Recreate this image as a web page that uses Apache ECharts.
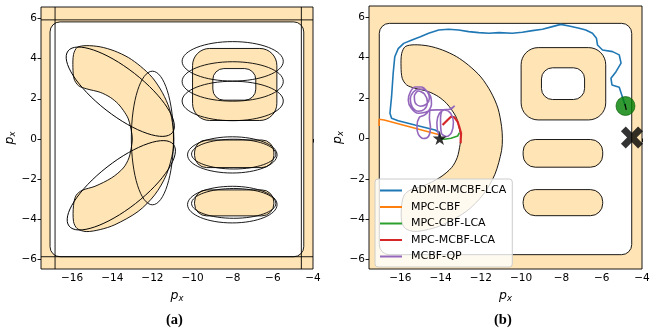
<!DOCTYPE html>
<html>
<head>
<meta charset="utf-8">
<script src="https://cdn.jsdelivr.net/npm/echarts@6/dist/echarts.min.js"></script>
<style>
  html, body { margin: 0; padding: 0; background: #fff; }
  #chart { width: 656px; height: 334px; }
</style>
</head>
<body>
<div id="chart"></div>
<script>
// tick labels
const xTicks = [-16, -14, -12, -10, -8, -6, -4];
const yTicks = [-6, -4, -2, 0, 2, 4, 6];
const xMin = -17.55, xMax = -4, yMin = -6.46, yMax = 6.56;

// free space (rounded rect: x0, y0, x1, y1, corner radius)
const freeA = [[-17.1, -5.85, -4.46, 5.82, 0.5]];
const freeB = [[-17.04, -5.75, -4.51, 5.7, 0.5]];

// obstacles: rounded rects and holes
const blocks = [
  [-10.0, 0.92, -5.8, 4.5, 0.85],
  [-9.9, -1.42, -5.95, -0.05, 0.6],
  [-9.9, -3.82, -5.95, -2.53, 0.6]
];
const holes = [[-8.99, 1.93, -6.85, 3.5, 0.55]];

// C shaped obstacle outline
const cShape = [
  [-15.93, 4.2], [-15.75, 4.55], [-15.3, 4.64], [-14.6, 4.58], [-13.9, 4.38],
  [-13.2, 4.05], [-12.6, 3.62], [-12.0, 3.05], [-11.5, 2.3], [-11.15, 1.5],
  [-10.97, 0.6], [-10.93, 0], [-10.97, -0.6], [-11.3, -1.77], [-11.88, -2.77],
  [-12.71, -3.6], [-13.87, -4.26], [-14.6, -4.5], [-15.3, -4.6], [-15.75, -4.45],
  [-15.93, -4.1], [-15.93, -3.3], [-15.8, -2.8], [-15.5, -2.55], [-14.86, -2.35],
  [-14.03, -1.93], [-13.45, -1.44], [-13.17, -0.94], [-13.03, -0.3], [-13.0, 0],
  [-13.03, 0.3], [-13.2, 1.0], [-13.44, 1.41], [-13.7, 1.74], [-14.1, 2.07],
  [-14.6, 2.32], [-15.27, 2.49], [-15.68, 2.65], [-15.9, 2.98], [-15.96, 3.55]
];

// (a) ellipses: cx, cy, rx, ry, angle(deg)
const ellipses = [
  [-13.6, 2.35, 3.3, 1.15, -38],
  [-13.55, -2.3, 3.3, 1.15, 38],
  [-12.0, 0.05, 1.05, 3.32, 0],
  [-8.0, 3.86, 2.52, 0.98, 0],
  [-8.0, 2.86, 2.52, 0.98, 0],
  [-8.0, 1.89, 2.52, 0.98, 0],
  [-8.02, -0.79, 2.23, 0.9, 0],
  [-7.95, -0.75, 2.1, 0.74, 0],
  [-8.02, -3.26, 2.23, 0.91, 0],
  [-7.95, -3.2, 2.1, 0.74, 0]
];
// (a) straight boundary lines
const vLinesA = [-16.85, -4.58];
const hLinesA = [5.92, -5.85];

// (b) trajectories
const admm = [
  [-4.83, 1.62], [-5.13, 2.54], [-5.49, 2.65], [-5.54, 2.98], [-5.29, 3.31], [-5.04, 3.73],
  [-5.13, 4.14], [-5.46, 4.3], [-5.96, 4.38], [-6.21, 4.63], [-6.26, 4.96], [-6.46, 5.21],
  [-6.79, 5.37], [-7.12, 5.46], [-7.62, 5.57], [-8.03, 5.65], [-8.45, 5.54], [-8.94, 5.41],
  [-9.44, 5.34], [-9.94, 5.26], [-10.44, 5.21], [-11.1, 5.24], [-11.6, 5.21], [-12.1, 5.24],
  [-12.6, 5.29], [-13.1, 5.37], [-13.6, 5.41], [-14.09, 5.37], [-14.59, 5.21], [-15.0, 5.04],
  [-15.42, 4.88], [-15.83, 4.71], [-16.1, 4.45], [-16.27, 4.05], [-16.35, 3.23], [-16.43, 2.07],
  [-16.51, 1.25], [-16.43, 1.0], [-16.1, 0.88], [-15.27, 0.67], [-14.27, 0.42], [-14.05, 0.3]
];
const mpcCbf = [[-17.05, 0.62], [-17.05, 0.95], [-16.8, 0.92], [-14.1, 0.2]];
const mpcCbfLca = [[-14.0, 0.0], [-13.81, -0.04], [-13.48, 0.01], [-13.15, 0.12], [-13.07, 0.28]];
const mpcMcbfLca = [
  [-13.9, 0.67], [-13.65, 0.92], [-13.48, 1.08], [-13.31, 1.05], [-13.15, 0.83],
  [-13.07, 0.58], [-12.98, 0.26], [-13.0, -0.07], [-13.0, -0.23]
];
const mcbfQp = [
  [-14.02, 0.05], [-14.15, 0.4], [-14.18, 0.8], [-14.05, 1.25], [-13.8, 1.41], [-13.5, 1.25],
  [-13.36, 0.8], [-13.45, 0.3], [-13.7, 0.1], [-13.95, 0.25], [-14.0, 0.9], [-13.9, 1.4],
  [-13.55, 1.45], [-13.3, 1.62], [-13.5, 1.45], [-14.0, 1.42], [-14.5, 1.4], [-14.55, 1.0],
  [-14.5, 0.55], [-14.6, 0.1], [-14.85, 0.0], [-15.1, 0.2], [-15.17, 0.6], [-15.05, 1.05],
  [-14.8, 1.16], [-14.6, 1.35], [-14.45, 1.7], [-14.5, 2.1], [-14.75, 2.4], [-15.05, 2.45],
  [-15.35, 2.3], [-15.5, 1.95], [-15.4, 1.55], [-15.1, 1.35], [-14.8, 1.45], [-14.65, 1.8],
  [-14.8, 2.2], [-15.1, 2.35], [-15.3, 2.1], [-15.25, 1.75], [-15.0, 1.6], [-14.7, 1.7],
  [-14.55, 2.0], [-14.65, 2.3], [-14.95, 2.55], [-15.25, 2.55], [-15.5, 2.3], [-15.6, 1.9],
  [-15.45, 1.5], [-15.1, 1.25], [-14.75, 1.3], [-14.5, 1.4]
];
const goal = [[-14.04, 0.02]];
const startCross = [[-4.5, 0.05]];
const robot = [[-4.82, 1.61]];
const heading = [[-4.85, 1.72], [-4.78, 1.42]];

const names = ['ADMM-MCBF-LCA', 'MPC-CBF', 'MPC-CBF-LCA', 'MPC-MCBF-LCA', 'MCBF-QP'];
const colors = ['#1f77b4', '#ff7f0e', '#2ca02c', '#d62728', '#9467bd'];
const FILL = '#FFE4B5';

const fmt = (v) => (v < 0 ? '\u2212' + Math.abs(v) : String(v));

function rectItem(fill) {
  return (params, api) => {
    const a = api.coord([api.value(0), api.value(3)]);
    const b = api.coord([api.value(2), api.value(1)]);
    const r = api.size([api.value(4), api.value(4)]);
    return {
      type: 'rect',
      shape: { x: a[0], y: a[1], width: b[0] - a[0], height: b[1] - a[1], r: Math.min(r[0], r[1]) },
      style: { fill: fill, stroke: '#000', lineWidth: 0.9 }
    };
  };
}

function ellipseItem(params, api) {
  const c = api.coord([api.value(0), api.value(1)]);
  const s = api.size([api.value(2), api.value(3)]);
  return {
    type: 'ellipse',
    x: c[0], y: c[1],
    rotation: api.value(4) * Math.PI / 180,
    shape: { cx: 0, cy: 0, rx: s[0], ry: s[1] },
    style: { fill: 'none', stroke: '#000', lineWidth: 0.9 }
  };
}

function cItem(params, api) {
  return {
    type: 'polygon',
    shape: { points: cShape.map((p) => api.coord(p)), smooth: 0.3 },
    style: { fill: FILL, stroke: '#000', lineWidth: 0.9 }
  };
}

function vLineItem(params, api) {
  const a = api.coord([api.value(0), yMin]);
  const b = api.coord([api.value(0), yMax]);
  return { type: 'line', shape: { x1: a[0], y1: a[1], x2: b[0], y2: b[1] }, style: { stroke: '#000', lineWidth: 0.9 } };
}
function hLineItem(params, api) {
  const a = api.coord([xMin, api.value(0)]);
  const b = api.coord([xMax, api.value(0)]);
  return { type: 'line', shape: { x1: a[0], y1: a[1], x2: b[0], y2: b[1] }, style: { stroke: '#000', lineWidth: 0.9 } };
}

function obstacleSeries(i) {
  return [
    { type: 'custom', xAxisIndex: i, yAxisIndex: i, clip: true, z: 2, renderItem: cItem, data: [[-13, 0]], silent: true },
    { type: 'custom', xAxisIndex: i, yAxisIndex: i, clip: true, z: 2, renderItem: rectItem(FILL), data: blocks, silent: true },
    { type: 'custom', xAxisIndex: i, yAxisIndex: i, clip: true, z: 3, renderItem: rectItem('#fff'), data: holes, silent: true }
  ];
}

const nameRich = {
  p: { fontSize: 12.5, fontStyle: 'italic', fontFamily: 'DejaVu Sans', color: '#000', lineHeight: 16, verticalAlign: 'middle' },
  s: { fontSize: 8.5, fontStyle: 'italic', fontFamily: 'DejaVu Sans', color: '#000', lineHeight: 9, verticalAlign: 'bottom' }
};

function makeAxes(i, left, top, width, height) {
  return {
    grid: { left: left, top: top, width: width, height: height, show: true, backgroundColor: FILL, borderColor: '#000', borderWidth: 0.9 },
    x: {
      type: 'value', gridIndex: i, min: xMin, max: xMax,
      axisLine: { show: false }, splitLine: { show: false },
      axisTick: { show: true, length: 3.5, customValues: xTicks, lineStyle: { color: '#000', width: 0.9 } },
      axisLabel: { customValues: xTicks, formatter: fmt, color: '#000', fontSize: 10.5, margin: 4, fontFamily: 'DejaVu Sans' },
      name: '{p|p}{s|x}', nameLocation: 'middle', nameGap: 17,
      nameTextStyle: { rich: nameRich }
    },
    y: {
      type: 'value', gridIndex: i, min: yMin, max: yMax,
      axisLine: { show: false }, splitLine: { show: false },
      axisTick: { show: true, length: 3.5, customValues: yTicks, lineStyle: { color: '#000', width: 0.9 } },
      axisLabel: { customValues: yTicks, formatter: fmt, color: '#000', fontSize: 10.5, margin: 4, fontFamily: 'DejaVu Sans' },
      name: '{p|p}{s|x}', nameLocation: 'middle', nameGap: 22, nameRotate: 90,
      nameTextStyle: { rich: nameRich }
    }
  };
}

const A = makeAxes(0, 41, 7, 272, 262);
const B = makeAxes(1, 369, 6, 273, 263);

const trajData = [admm, mpcCbf, mpcCbfLca, mpcMcbfLca, mcbfQp];
const trajSeries = trajData.map((d, k) => ({
  name: names[k], type: 'line', xAxisIndex: 1, yAxisIndex: 1, z: 5,
  data: d, showSymbol: false, clip: true, smooth: k === 4 ? 0.3 : false,
  lineStyle: { color: colors[k], width: k === 3 ? 2.2 : 1.6 },
  itemStyle: { color: colors[k] }
}));

const chart = echarts.init(document.getElementById('chart'), null, { renderer: 'canvas' });
chart.setOption({
  animation: false,
  backgroundColor: '#fff',
  grid: [A.grid, B.grid],
  xAxis: [A.x, B.x],
  yAxis: [A.y, B.y],
  legend: {
    data: names, orient: 'vertical', left: 375, top: 179,
    icon: 'rect', itemWidth: 22, itemHeight: 2, itemGap: 3.5,
    padding: [5, 6, 4, 5],
    backgroundColor: 'rgba(255,255,255,0.8)', borderColor: '#cccccc', borderWidth: 1, borderRadius: 3,
    textStyle: { color: '#000', fontSize: 11, lineHeight: 13, fontFamily: 'DejaVu Sans', padding: [0, 0, 0, 4] }
  },
  graphic: [
    { type: 'text', left: 166, top: 313, style: { text: '(a)', font: 'bold 14.5px "Liberation Serif"', fill: '#000' } },
    { type: 'text', left: 494, top: 313, style: { text: '(b)', font: 'bold 14.5px "Liberation Serif"', fill: '#000' } }
  ],
  series: [
    // (a)
    { type: 'custom', xAxisIndex: 0, yAxisIndex: 0, clip: true, z: 1, renderItem: rectItem('#fff'), data: freeA, silent: true },
    ...obstacleSeries(0),
    { type: 'custom', xAxisIndex: 0, yAxisIndex: 0, clip: true, z: 4, renderItem: ellipseItem, data: ellipses, silent: true },
    { type: 'custom', xAxisIndex: 0, yAxisIndex: 0, clip: true, z: 4, renderItem: vLineItem, data: vLinesA.map((v) => [v]), silent: true },
    { type: 'custom', xAxisIndex: 0, yAxisIndex: 0, clip: true, z: 4, renderItem: hLineItem, data: hLinesA.map((v) => [v]), silent: true },
    // (b)
    { type: 'custom', xAxisIndex: 1, yAxisIndex: 1, clip: true, z: 1, renderItem: rectItem('#fff'), data: freeB, silent: true },
    ...obstacleSeries(1),
    ...trajSeries,
    { type: 'scatter', xAxisIndex: 1, yAxisIndex: 1, z: 6, data: robot, symbol: 'circle', symbolSize: 19,
      itemStyle: { color: '#008000', borderColor: '#005a00', borderWidth: 0.8 }, silent: true },
    { type: 'line', xAxisIndex: 1, yAxisIndex: 1, z: 7, data: heading, showSymbol: false,
      lineStyle: { color: '#000', width: 1.2 }, silent: true },
    { type: 'scatter', xAxisIndex: 1, yAxisIndex: 1, z: 7, data: goal, symbolSize: 14,
      symbol: 'path://M50,0 L61,35 L98,35 L68,57 L79,91 L50,70 L21,91 L32,57 L2,35 L39,35 Z',
      itemStyle: { color: '#000' }, silent: true },
    { type: 'scatter', xAxisIndex: 1, yAxisIndex: 1, z: 7, data: startCross, symbolSize: 22,
      symbol: 'path://M0,22 L22,0 L50,28 L78,0 L100,22 L72,50 L100,78 L78,100 L50,72 L22,100 L0,78 L28,50 Z',
      itemStyle: { color: '#000' }, silent: true }
  ]
});
</script>
</body>
</html>
